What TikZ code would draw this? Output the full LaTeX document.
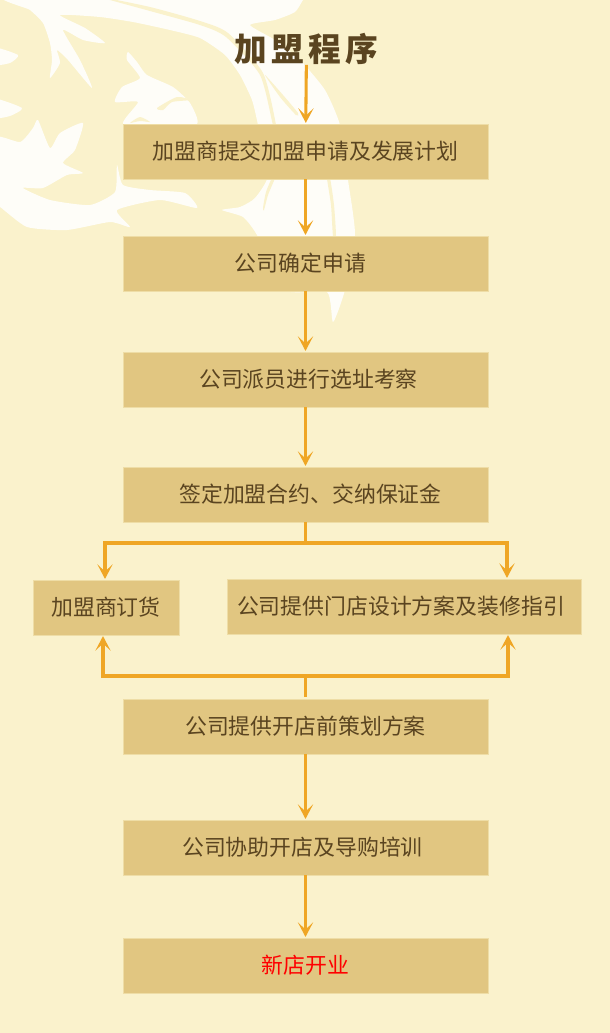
\documentclass[tikz,border=0pt]{standalone}
\usepackage{fontspec}
\setmainfont{Noto Sans CJK SC}
\usetikzlibrary{graphs}
\usetikzlibrary{positioning}
\usetikzlibrary{arrows.meta}
\definecolor{paper}{HTML}{FAF2CC}
\definecolor{swirl}{HTML}{FEFDF8}
\definecolor{boxfill}{HTML}{E1C681}
\definecolor{boxedge}{HTML}{EEDDA6}
\definecolor{flowline}{HTML}{EFA625}
\definecolor{ink}{HTML}{5A4420}
\tikzstyle{stepbox} = [fill=boxfill, draw=boxedge, line width=0.75pt, outer sep=0pt, inner sep=0pt, minimum height=41.25pt, text=ink, font=\fontsize{16.4}{18}\selectfont, text centered, align=center]
\tikzstyle{mainbox} = [stepbox, minimum width=273.75pt]
\tikzstyle{flow} = [draw=flowline, line width=2.3pt, shorten >=0.8pt]
\tikzstyle{branch} = [draw=flowline, line width=2.3pt]
\tikzstyle{leaf} = [fill=swirl, draw=none]
\tikzstyle{vein} = [fill=paper, draw=none]

\begin{document}
\begin{tikzpicture}[x=0.75pt, y=-0.75pt, >={Stealth[length=11pt, width=11.5pt, inset=5.5pt]}]
    \fill[paper] (0,0) rectangle (610,1033);
    \useasboundingbox (0,0) rectangle (610,1033);

    % background ornament
    \begin{scope}
        \clip (0,0) rectangle (610,1033);
        \fill[leaf] plot[smooth cycle, tension=0.35] coordinates {
            (10,-5) (30,10) (43,23) (50,43) (52,60) (50,78) (60,63) (57,50) (68,60) (92,88)
            (80,60) (63,30) (83,40) (105,43) (85,28) (60,15) (100,17) (133,22) (170,30) (200,38)
            (225,55) (240,75) (252,100) (258,125) (268,175) (255,198) (240,207) (222,210) (243,217) (257,235)
            (285,290) (327,292) (333,322) (345,290) (355,235) (348,180) (340,125) (325,90) (300,60) (275,40)
            (250,25) (275,20) (295,12) (303,0) (310,-8)
        };
        \fill[leaf] plot[smooth cycle, tension=0.35] coordinates {
            (-8,138) (20,142) (33,128) (38,120) (50,148) (60,133) (83,123) (75,150) (63,163) (83,173)
            (67,175) (43,188) (23,188) (50,200) (90,205) (115,192) (117,165) (123,185) (150,190) (185,193)
            (197,208) (160,200) (117,210) (130,227) (110,222) (67,230) (27,227) (0,207) (-8,205)
        };
        \fill[leaf] plot[smooth cycle, tension=0.35] coordinates {
            (128,52) (127,60) (140,78) (122,87) (115,102) (138,102) (123,124) (160,135) (197,124) (190,103)
            (173,87) (147,75) (137,62)
        };
        \fill[leaf] plot[smooth cycle, tension=0.35] coordinates {(-8,47) (18,55) (10,63) (-8,65)};
        \fill[leaf] plot[smooth cycle, tension=0.35] coordinates {(-8,98) (22,108) (10,116) (-8,118)};
        \fill[vein] plot[smooth cycle, tension=0.4] coordinates {
            (100,-3) (150,7) (200,21) (228,33) (263,73) (276,125) (273,125) (260,75) (226,37) (200,25) (150,11)
        };
        \fill[vein] plot[smooth cycle, tension=0.4] coordinates {(265,75) (283,95) (298,113) (296,115) (280,97)};
        \fill[vein] plot[smooth cycle, tension=0.4] coordinates {(157,108) (177,97) (190,100) (172,102) (163,110)};
        \fill[vein] plot[smooth cycle, tension=0.4] coordinates {(130,123) (140,117) (150,122) (140,121)};
        \fill[vein] plot[smooth cycle, tension=0.4] coordinates {(272,178) (275,178) (268,195) (264,210) (263,208) (266,192)};
        \fill[vein] plot[smooth cycle, tension=0.4] coordinates {(327,178) (330,178) (334,205) (336,236) (333,236) (331,205)};
    \end{scope}

    \node[text=ink, font=\fontsize{24.5}{28}\bfseries\addfontfeature{LetterSpace=13}, inner sep=0pt, outer sep=0pt] (title) at (306.5,49) {加盟程序};
    \node[mainbox] (apply) at (305.5,151.5) {加盟商提交加盟申请及发展计划};
    \node[mainbox, below=42.75pt of apply] (confirm) {\hspace*{-7.5pt}公司确定申请};
    \node[mainbox, below=45.75pt of confirm] (survey) {\hspace*{4.5pt}公司派员进行选址考察};
    \node[mainbox, below=45pt of survey] (sign) {\hspace*{7.5pt}签定加盟合约、交纳保证金};
    \node[stepbox, minimum width=109.5pt] (order) at (106,607.5) {加盟商订货};
    \node[stepbox, minimum width=265.5pt] (design) at (404,606.5) {\hspace*{-4.5pt}公司提供门店设计方案及装修指引};
    \node[mainbox, below=132.75pt of sign] (plan) {公司提供开店前策划方案};
    \node[mainbox, below=49.5pt of plan] (train) {\hspace*{-4.5pt}公司协助开店及导购培训};
    \node[mainbox, below=47.25pt of train, text=red] (opening) {新店开业};

    \coordinate (split) at (305.5,543);
    \coordinate (merge) at (305.5,676);

    \graph[edges={flow}] {
        (title) -> (apply);
        (apply) -> (confirm);
        (confirm) -> (survey);
        (survey) -> (sign);
        (plan) -> (train);
        (train) -> (opening);
    };

    \draw[branch] (sign) -- (split);
    \draw[flow, ->] (split) -| ([xshift=-0.75pt]order.north);
    \draw[flow, ->] (split) -| ([xshift=77.25pt]design.north);
    \draw[branch, line width=2.8pt, shorten <=1.5pt] (plan.north) -- (merge);
    \draw[flow, ->, line width=2.8pt] (merge) -| ([xshift=-2.25pt]order.south);
    \draw[flow, ->, line width=2.8pt] (merge) -| ([xshift=78pt]design.south);
\end{tikzpicture}
\end{document}
